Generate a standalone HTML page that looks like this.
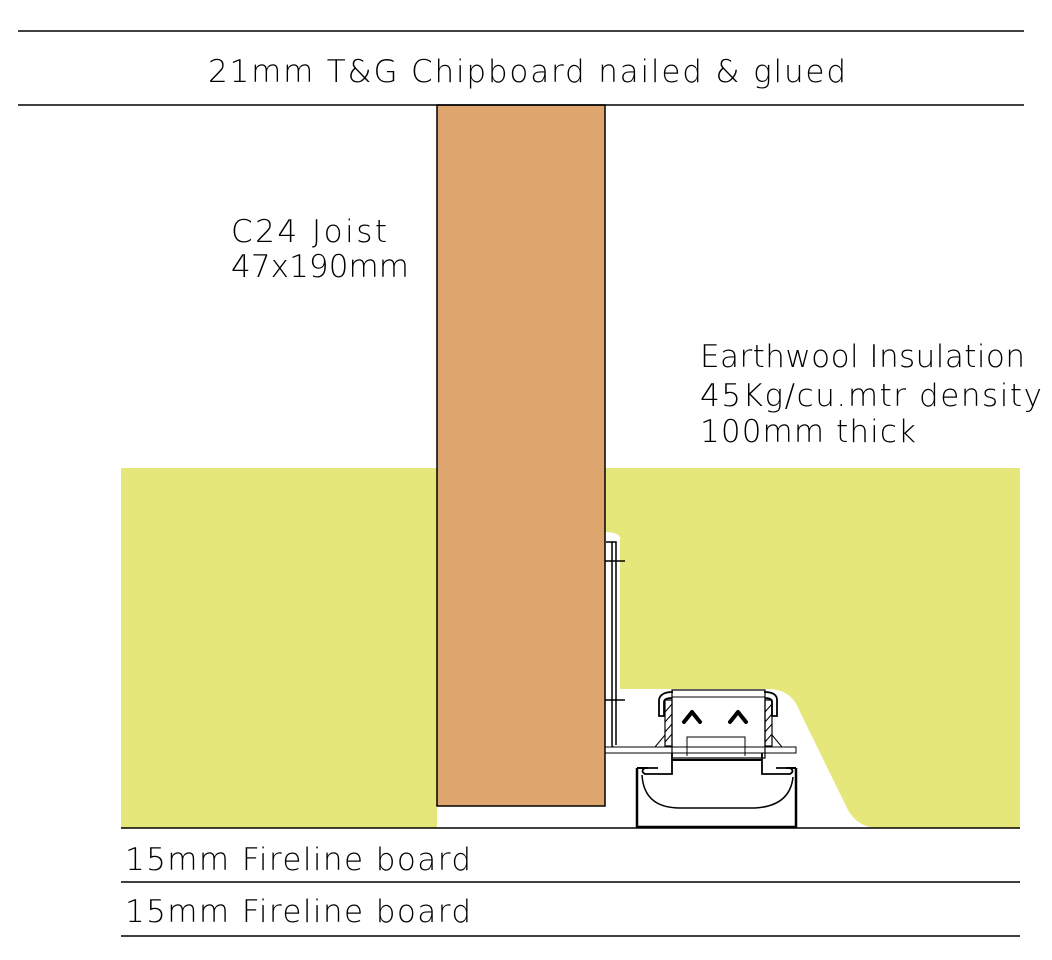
<!DOCTYPE html>
<html><head><meta charset="utf-8"><style>
html,body{margin:0;padding:0;background:#fff;}
svg{display:block}
text{font-family:"DejaVu Sans","Liberation Sans",sans-serif;font-size:31px;font-weight:200;fill:#000;}
</style></head><body>
<svg width="1052" height="960" viewBox="0 0 1052 960" xmlns="http://www.w3.org/2000/svg">
<rect x="121" y="468" width="316" height="360" fill="#e5e77b"/>
<path d="M605,468 H1020 V828 H875 Q857,826 848,810 L800,712 Q792,690 770,689 H620 V537 Q617,532 605,532 Z" fill="#e5e77b"/>
<rect x="437" y="105" width="168" height="701" fill="#dea56f" stroke="#000" stroke-width="1.5"/>
<g stroke="#000" stroke-width="1.5" fill="none">
<line x1="18" y1="31" x2="1024" y2="31"/>
<line x1="18" y1="105" x2="1024" y2="105"/>
<line x1="121" y1="828" x2="1020" y2="828"/>
<line x1="121" y1="882" x2="1020" y2="882"/>
<line x1="121" y1="936" x2="1020" y2="936"/>
<path d="M606,542 H616 V745 M612,542 V745 Q612,746 613,747"/>
<line x1="605" y1="561" x2="625" y2="561"/>
<line x1="605" y1="700" x2="625" y2="700"/>
<rect x="605" y="747" width="191" height="6" stroke-width="1"/>
<path d="M672,690 H765 V758 H672 Z" stroke-width="1.2"/>
<line x1="672" y1="697" x2="765" y2="697" stroke-width="1"/>
<path d="M673,692 Q660,692 659,700 V716 H664 V702 Q664,698 672,698" stroke-width="1.8"/>
<path d="M764,692 Q777,692 777,700 V716 H772 V702 Q772,698 765,698" stroke-width="1.8"/>
<rect x="665" y="700" width="7" height="46" stroke-width="1.2"/>
<rect x="765" y="700" width="7" height="46" stroke-width="1.2"/>
<path d="M665,712 L672,704 M665,722 L672,714 M665,732 L672,724 M665,742 L672,734 M765,712 L772,704 M765,722 L772,714 M765,732 L772,724 M765,742 L772,734" stroke-width="1"/>
<path d="M665,735 L655,747 M772,735 L782,747" stroke-width="1"/>
<path d="M684,722 L692,712 L700,722" stroke-width="4" stroke-linecap="round" stroke-linejoin="round"/>
<path d="M730,722 L738,712 L746,722" stroke-width="4" stroke-linecap="round" stroke-linejoin="round"/>
<path d="M687,756 V737 H745 V756" stroke-width="1"/>
<path d="M672,760 H762" stroke-width="2"/>
<path d="M672,753 V774 H645 Q640,771 645,768 H658" stroke-width="1.8"/>
<path d="M762,753 V774 H790 Q795,771 790,768 H776" stroke-width="1.8"/>
<path d="M637,768 H648 M786,768 H796" stroke-width="2"/>
<path d="M637,768 V827 H796 V768" stroke-width="2.5"/>
<path d="M642,775 Q644,808 680,808 H755 Q790,806 793,777" stroke-width="1.5"/>
</g>
<text x="208" y="82" textLength="638" lengthAdjust="spacing">21mm T&amp;G Chipboard nailed &amp; glued</text>
<text x="231" y="242" textLength="156" lengthAdjust="spacing">C24 Joist</text>
<text x="231" y="277" textLength="178" lengthAdjust="spacing">47x190mm</text>
<text x="700" y="367" textLength="325" lengthAdjust="spacing">Earthwool Insulation</text>
<text x="700" y="406" textLength="342" lengthAdjust="spacing">45Kg/cu.mtr density</text>
<text x="700" y="442" textLength="216" lengthAdjust="spacing">100mm thick</text>
<text x="125" y="870" textLength="346" lengthAdjust="spacing">15mm Fireline board</text>
<text x="125" y="922" textLength="346" lengthAdjust="spacing">15mm Fireline board</text>
</svg>
</body></html>
